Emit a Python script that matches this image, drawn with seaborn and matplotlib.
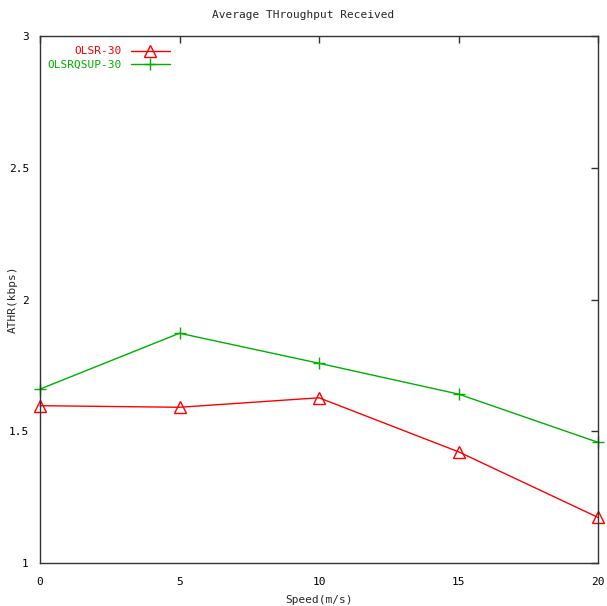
import matplotlib
matplotlib.use("Agg")
import matplotlib.pyplot as plt
import seaborn as sns
import pandas as pd
from matplotlib.lines import Line2D

speed = [0, 5, 10, 15, 20]
olsr = [1.597, 1.591, 1.627, 1.422, 1.173]
olsrqsup = [1.660, 1.872, 1.758, 1.641, 1.458]
series_names = ["OLSR-30", "OLSRQSUP-30"]
colors = ["#ff0000", "#00b000"]
marker_list = ["^", "+"]

sns.set_style("white")
plt.rcParams["font.family"] = ["DejaVu Sans Mono"]

fig = plt.figure(figsize=(6.07, 6.06), dpi=100)
ax = fig.add_axes([40 / 607, 1 - 563 / 606, 558 / 607, 527 / 606])

for name, vals, c, m in zip(series_names, [olsr, olsrqsup], colors, marker_list):
    d = pd.DataFrame({"speed": speed, "val": vals})
    sns.lineplot(data=d, x="speed", y="val", color=c, marker=m, markersize=9,
                 markerfacecolor="none", markeredgecolor=c, markeredgewidth=1.0,
                 linewidth=1.0, ax=ax, label=name, clip_on=False)

ax.set_xlim(0, 20)
ax.set_ylim(1, 3)
ax.set_xticks([0, 5, 10, 15, 20])
ax.set_xticklabels(["0", "5", "10", "15", "20"])
ax.set_yticks([1, 1.5, 2, 2.5, 3])
ax.set_yticklabels(["1", "1.5", "2", "2.5", "3"])
ax.tick_params(direction="in", length=5, width=1, labelsize=8, colors="#333333",
               top=True, right=True, labelcolor="black")
ax.tick_params(axis="x", pad=10)
ax.tick_params(axis="y", pad=8)
for s in ax.spines.values():
    s.set_color("#333333")
    s.set_linewidth(1.0)

ax.set_xlabel("Speed(m/s)", fontsize=8, labelpad=6)
ax.set_ylabel("ATHR(kbps)", fontsize=8, labelpad=4)
ax.yaxis.set_label_coords(-22 / 558, 0.5)
fig.text(0.5, 1 - 15 / 606, "Average THroughput Received", ha="center", va="center", fontsize=8)

handles = [Line2D([], [], color=colors[0], marker="^", markerfacecolor="none", markersize=9, lw=1),
           Line2D([], [], color=colors[1], marker="+", markersize=9, lw=1)]
leg = ax.legend(handles, series_names, loc="upper left", frameon=False, markerfirst=False,
                fontsize=8, handlelength=3.5, borderaxespad=0.3, handletextpad=0.8,
                labelspacing=0.3, bbox_to_anchor=(0.0, 0.995))
for t, c in zip(leg.get_texts(), colors):
    t.set_color(c)

fig.savefig("out.png", dpi=100)
